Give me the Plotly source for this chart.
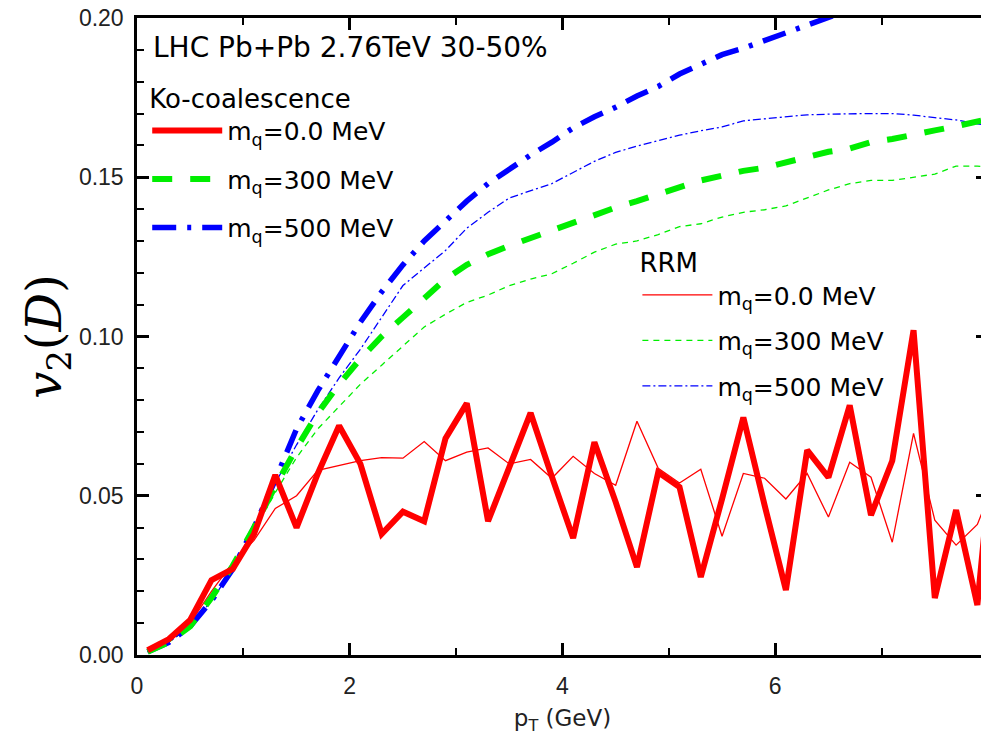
import plotly.graph_objects as go

pt = [0.1, 0.3, 0.5, 0.7, 0.9, 1.1, 1.3, 1.5, 1.7, 1.9, 2.1, 2.3, 2.5, 2.7, 2.9, 3.1, 3.3, 3.5, 3.7, 3.9,
      4.1, 4.3, 4.5, 4.7, 4.9, 5.1, 5.3, 5.5, 5.7, 5.9, 6.1, 6.3, 6.5, 6.7, 6.9, 7.1, 7.3, 7.5, 7.7, 7.9, 8.1]

ko_m0 = [0.0015, 0.005, 0.011, 0.0235, 0.027, 0.038, 0.0565, 0.040, 0.057, 0.072, 0.060, 0.038, 0.045, 0.042,
         0.068, 0.079, 0.042, 0.059, 0.076, 0.056, 0.0367, 0.0668, 0.048, 0.0276, 0.0574, 0.0527, 0.0245, 0.049,
         0.0746, 0.047, 0.0204, 0.0643, 0.0558, 0.0784, 0.0439, 0.061, 0.102, 0.0179, 0.0455, 0.0157, 0.085]
ko_m300 = [0.001, 0.004, 0.009, 0.018, 0.028, 0.040, 0.053, 0.065, 0.076, 0.085, 0.093, 0.100, 0.106, 0.112,
           0.118, 0.1225, 0.1258, 0.1285, 0.131, 0.1335, 0.136, 0.138, 0.1405, 0.1425, 0.1447, 0.147, 0.149,
           0.1505, 0.152, 0.153, 0.1547, 0.156, 0.158, 0.159, 0.161, 0.162, 0.1635, 0.1647, 0.166, 0.1675, 0.169]
ko_m500 = [0.001, 0.004, 0.009, 0.017, 0.027, 0.040, 0.055, 0.071, 0.083, 0.094, 0.1045, 0.114, 0.1225, 0.130,
           0.1365, 0.1425, 0.148, 0.1527, 0.157, 0.161, 0.1655, 0.169, 0.172, 0.1755, 0.1785, 0.1824, 0.1853,
           0.1885, 0.1905, 0.193, 0.1955, 0.198, 0.2005, 0.203, 0.205, 0.207, 0.209, 0.211, 0.213, 0.215, 0.217]

rrm_m0 = [0.001, 0.004, 0.010, 0.020, 0.029, 0.036, 0.046, 0.050, 0.058, 0.0596, 0.061, 0.062, 0.0618, 0.067,
          0.061, 0.0637, 0.065, 0.060, 0.0614, 0.0555, 0.0624, 0.057, 0.0533, 0.0734, 0.0586, 0.054, 0.0583,
          0.0373, 0.057, 0.0555, 0.049, 0.057, 0.0433, 0.0605, 0.0558, 0.0354, 0.0696, 0.0423, 0.0345, 0.041, 0.058]
rrm_m300 = [0.001, 0.004, 0.009, 0.017, 0.027, 0.039, 0.051, 0.062, 0.071, 0.078, 0.085, 0.091, 0.097, 0.103,
            0.107, 0.1107, 0.113, 0.116, 0.118, 0.1197, 0.123, 0.1265, 0.129, 0.130, 0.132, 0.1345, 0.1354,
            0.1375, 0.139, 0.1398, 0.141, 0.1435, 0.146, 0.148, 0.149, 0.149, 0.150, 0.151, 0.1535, 0.1535, 0.153]
rrm_m500 = [0.001, 0.004, 0.009, 0.017, 0.027, 0.040, 0.054, 0.066, 0.077, 0.087, 0.096, 0.106, 0.116, 0.1215,
            0.127, 0.134, 0.139, 0.1435, 0.1458, 0.148, 0.1515, 0.155, 0.1578, 0.1598, 0.1615, 0.1632, 0.1646,
            0.1658, 0.1677, 0.1683, 0.169, 0.1696, 0.1698, 0.170, 0.170, 0.170, 0.1695, 0.1687, 0.168, 0.1668, 0.1655]

labels = ["m<sub>q</sub>=0.0 MeV", "m<sub>q</sub>=300 MeV", "m<sub>q</sub>=500 MeV"]
x_ticks = [0, 2, 4, 6, 8]
y_ticks = [0.00, 0.05, 0.10, 0.15, 0.20]

RED, GREEN, BLUE = "#ff0000", "#00ee00", "#0000ff"
TXT = "DejaVu Sans, Liberation Sans, Arial"

fig = go.Figure()

# RRM (thin)
fig.add_trace(go.Scatter(x=pt, y=rrm_m0, mode="lines", name=labels[0], legend="legend2", legendgroup="r0",
                         legendrank=1, line=dict(color=RED, width=1.3)))
fig.add_trace(go.Scatter(x=pt, y=rrm_m300, mode="lines", name=labels[1], legend="legend2", legendgroup="r1",
                         legendrank=2, line=dict(color=GREEN, width=1.3, dash="6px,5px")))
fig.add_trace(go.Scatter(x=pt, y=rrm_m500, mode="lines", name=labels[2], legend="legend2", legendgroup="r2",
                         legendrank=3, line=dict(color=BLUE, width=1.3, dash="8px,3px,2px,3px")))

# Ko-coalescence (thick)
fig.add_trace(go.Scatter(x=pt, y=ko_m500, mode="lines", name=labels[2], legend="legend", legendgroup="k2",
                         legendrank=3, line=dict(color=BLUE, width=5.5, dash="24px,11px,4px,11px")))
fig.add_trace(go.Scatter(x=pt, y=ko_m300, mode="lines", name=labels[1], legend="legend", legendgroup="k1",
                         legendrank=2, line=dict(color=GREEN, width=6, dash="20px,18px")))
fig.add_trace(go.Scatter(x=pt, y=ko_m0, mode="lines", name=labels[0], legend="legend", legendgroup="k0",
                         legendrank=1, line=dict(color=RED, width=6)))

tickfont = dict(family="Liberation Sans, Arial", size=23, color="#222")

axis_common = dict(
    showline=True, linecolor="black", linewidth=2.5, mirror="allticks",
    ticks="inside", ticklen=12, tickwidth=2.5, tickcolor="black",
    showgrid=False, zeroline=False, tickfont=tickfont, automargin=False,
    ticklabeloverflow="allow",
)

# page body has an 8px margin: figure is sized to fit the 989x746 window
fig.update_layout(
    width=981, height=738,
    margin=dict(l=129, r=1, t=10, b=91),
    paper_bgcolor="white", plot_bgcolor="white",
    xaxis=dict(range=[0, 8], tickvals=x_ticks, ticktext=[str(v) for v in x_ticks],
               minor=dict(ticks="inside", dtick=1, ticklen=7, tickwidth=2, tickcolor="black"),
               ticklabelstandoff=9,
               title=dict(text="p<sub>T</sub> (GeV)", font=dict(family=TXT, size=23, color="#222"),
                          standoff=12),
               **axis_common),
    yaxis=dict(range=[0, 0.2], tickvals=y_ticks, ticktext=["%.2f" % v for v in y_ticks],
               minor=dict(ticks="inside", dtick=0.01, ticklen=7, tickwidth=2, tickcolor="black"),
               ticklabelstandoff=6,
               title=dict(text="<i>v</i><sub>2</sub>(<i>D</i>)",
                          font=dict(family="DejaVu Serif, Liberation Serif, serif", size=48, color="black"),
                          standoff=3),
               **axis_common),
    legend=dict(x=0.012, y=0.912, xanchor="left", yanchor="top", bgcolor="rgba(0,0,0,0)",
                title=dict(text="Ko-coalescence", font=dict(family=TXT, size=26, color="black")),
                font=dict(family=TXT, size=25, color="black"),
                traceorder="grouped", tracegroupgap=13, itemwidth=70),
    legend2=dict(x=0.588, y=0.654, xanchor="left", yanchor="top", bgcolor="rgba(0,0,0,0)",
                 title=dict(text="RRM", font=dict(family=TXT, size=26, color="black")),
                 font=dict(family=TXT, size=25, color="black"),
                 traceorder="grouped", tracegroupgap=10, itemwidth=70),
    annotations=[dict(text="LHC Pb+Pb 2.76TeV 30-50%", xref="paper", yref="paper", x=0.017, y=0.953,
                      xanchor="left", yanchor="middle", showarrow=False,
                      font=dict(family=TXT, size=28, color="black"))],
)

fig.write_html("out.html")
